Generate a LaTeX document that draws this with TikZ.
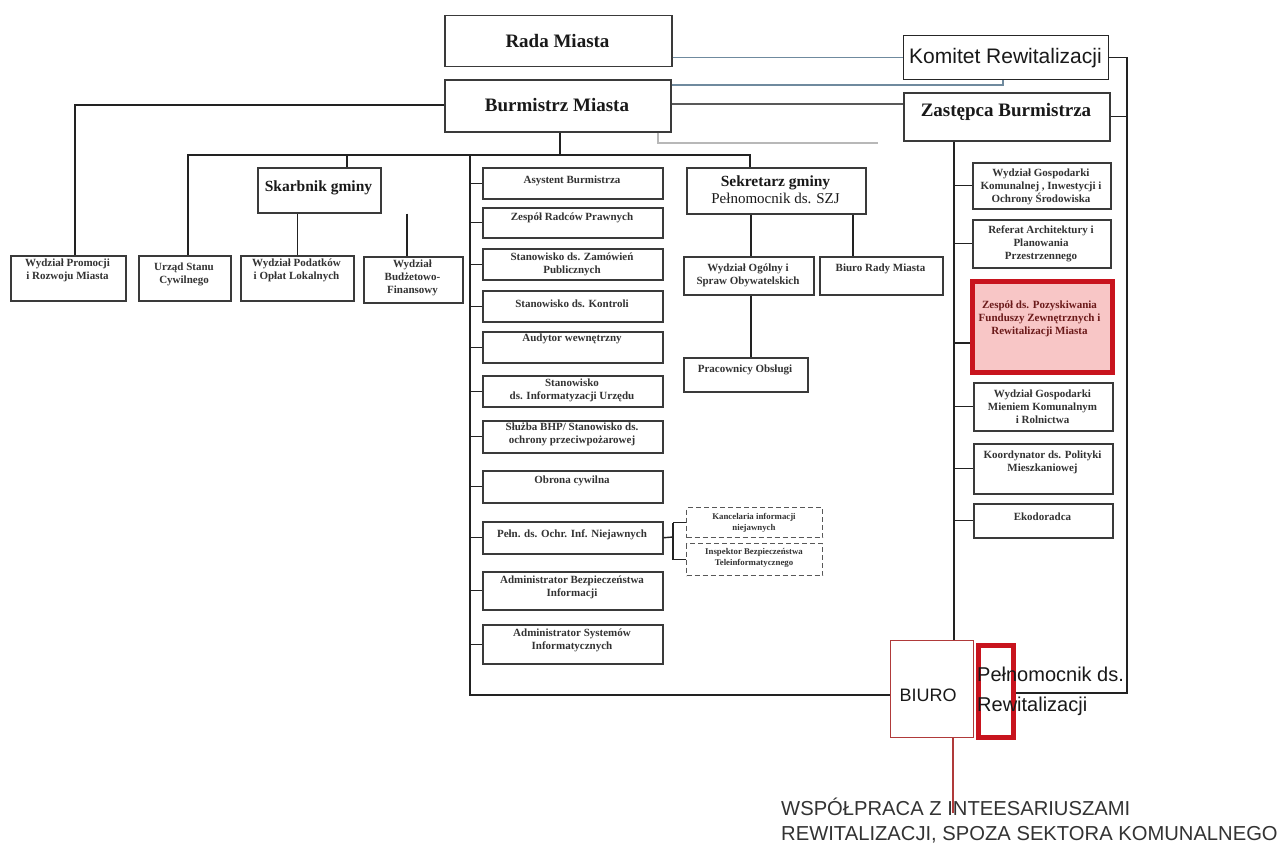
\documentclass[tikz,border=0pt]{standalone}
\usepackage{fontspec}
\setmainfont{Liberation Serif}
\newfontfamily\arialf{Liberation Sans}
\definecolor{bd}{HTML}{3A3A3A}
\definecolor{redb}{HTML}{C8141E}
\definecolor{pinkf}{HTML}{F8C6C6}
\definecolor{ln}{HTML}{222222}
\definecolor{blu}{HTML}{6F8A9E}
\definecolor{lgr}{HTML}{B8B8B8}
\definecolor{biur}{HTML}{B03A3A}
\definecolor{redtxt}{HTML}{6B1A1A}
\newcommand\obx[9]{%
  \node[#2, anchor=north west, minimum width={#6pt-#4pt}, minimum height={#7pt-#5pt}, inner sep=0pt] (#1) at (#4,#5) {};
  \node[#3] (#1-t) at ({(#4+#6)/2},#8) {#9};
}
\begin{document}
\begin{tikzpicture}[x=1pt,y=-1pt,
  box/.style={draw=bd, line width=1.5pt, fill=white},
  kbox/.style={draw=black!85, line width=1.3pt, fill=white},
  dbox/.style={draw=bd!85, line width=1.3pt, dash pattern=on 5pt off 3pt, fill=white},
  redbox/.style={draw=redb, line width=5pt, fill=pinkf},
  biurobox/.style={draw=biur, line width=0.9pt, fill=white},
  pelbox/.style={draw=redb, line width=5pt},
  con/.style={draw=ln, line width=1.4pt},
  bcon/.style={draw=blu, line width=1.1pt},
  lcon/.style={draw=lgr, line width=1.1pt},
  rcon/.style={draw=biur, line width=1.2pt},
  base/.style={align=center, inner sep=0pt},
  bigt/.style={base, font=\fontsize{19}{22}\selectfont\bfseries, text=black!90},
  midt/.style={base, font=\fontsize{15.5}{17}\selectfont\bfseries, text=black!90},
  sekt/.style={base, font=\fontsize{15}{17}\selectfont, text=black!90},
  smt/.style={base, font=\fontsize{11}{13}\selectfont\bfseries, text=black!80},
  tnt/.style={base, font=\fontsize{8.8}{11.5}\selectfont\bfseries, text=black!80},
  redt/.style={base, font=\fontsize{11}{13}\selectfont\bfseries, text=redtxt},
  sanst/.style={base, font=\arialf\fontsize{21}{24}\selectfont, text=black!90}
]
\fill[white] (0,0) rectangle (1279,843);
\useasboundingbox (0,0) rectangle (1279,843);

% junction coordinates
\coordinate (j1) at (75,105);
\coordinate (hb) at (560,155);
\coordinate (busL) at (188,155);
\coordinate (busR) at (750,155);
\coordinate (sk) at (347,155);
\coordinate (sp) at (470,155);
\coordinate (spb) at (470,695);
\coordinate (sx1) at (751,0);
\coordinate (sx2) at (853,0);
\coordinate (wbx) at (407,0);
\coordinate (dj) at (673,537);
\coordinate (k85) at (1003,85);
\coordinate (z104) at (0,104);
\coordinate (lg1) at (658,143);
\coordinate (lg2) at (878,143);
\coordinate (rr) at (1127,0);
\coordinate (zs) at (954,0);
\coordinate (zt3) at (954,343);
\coordinate (pr) at (0,693);
\coordinate (bl) at (953,813);

% boxes
\obx{rada}{box}{bigt}{444}{15}{671}{66}{41}{Rada Miasta}
\obx{burm}{box}{bigt}{444}{79}{670}{131}{105}{Burmistrz Miasta}
\obx{komitet}{kbox}{sanst}{903}{35}{1108}{79}{58}{Komitet Rewitalizacji}
\obx{zast}{box}{bigt}{903}{92}{1109}{140}{112}{Zastępca Burmistrza}
\obx{skarb}{box}{midt}{257}{167}{380}{212}{188}{Skarbnik gminy}
\obx{wpro}{box}{smt}{10}{255}{125}{300}{270}{Wydział Promocji\\i Rozwoju Miasta}
\obx{usc}{box}{smt}{138}{255}{230}{300}{274}{Urząd Stanu\\Cywilnego}
\obx{wpod}{box}{smt}{240}{255}{353}{300}{270}{Wydział Podatków\\i Opłat Lokalnych}
\obx{wbud}{box}{smt}{363}{256}{462}{302}{278}{Wydział\\Budżetowo-\\Finansowy}
\obx{sekr}{box}{sekt}{686}{167}{865}{213}{190}{{\fontsize{15.5}{17}\selectfont\bfseries Sekretarz gminy}\\Pełnomocnik ds. SZJ}
\obx{wog}{box}{smt}{683}{256}{813}{294}{275}{Wydział Ogólny i\\Spraw Obywatelskich}
\obx{brm}{box}{smt}{819}{256}{942}{294}{269}{Biuro Rady Miasta}
\obx{pob}{box}{smt}{683}{357}{807}{391}{370}{Pracownicy Obsługi}

\obx{asyst}{box}{smt}{482}{167}{662}{198}{181}{Asystent Burmistrza}
\obx{zrp}{box}{smt}{482}{207}{662}{237}{218}{Zespół Radców Prawnych}
\obx{szam}{box}{smt}{482}{248}{662}{279}{264}{Stanowisko ds. Zamówień\\Publicznych}
\obx{skon}{box}{smt}{482}{290}{662}{321}{304}{Stanowisko ds. Kontroli}
\obx{aud}{box}{smt}{482}{331}{662}{362}{339}{Audytor wewnętrzny}
\obx{sinf}{box}{smt}{482}{375}{662}{406}{390}{Stanowisko\\ds. Informatyzacji Urzędu}
\obx{bhp}{box}{smt}{482}{420}{662}{452}{434}{Służba BHP/ Stanowisko ds.\\ochrony przeciwpożarowej}
\obx{obr}{box}{smt}{482}{470}{662}{502}{481}{Obrona cywilna}
\obx{pni}{box}{smt}{482}{521}{662}{553}{535}{Pełn. ds. Ochr. Inf. Niejawnych}
\obx{abi}{box}{smt}{482}{571}{662}{609}{587}{Administrator Bezpieczeństwa\\Informacji}
\obx{asi}{box}{smt}{482}{624}{662}{663}{640}{Administrator Systemów\\Informatycznych}

\obx{kanc}{dbox}{tnt}{686}{507}{822}{537}{523}{Kancelaria informacji\\niejawnych}
\obx{insp}{dbox}{tnt}{686}{543}{822}{575}{558}{Inspektor Bezpieczeństwa\\Teleinformatycznego}

\obx{wgk}{box}{smt}{972}{162}{1110}{208}{187}{Wydział Gospodarki\\Komunalnej , Inwestycji i\\Ochrony Środowiska}
\obx{refa}{box}{smt}{972}{219}{1110}{267}{244}{Referat Architektury i\\Planowania\\Przestrzennego}
\obx{zfz}{redbox}{redt}{969.5}{278.5}{1109.5}{369.5}{319}{Zespół ds. Pozyskiwania\\Funduszy Zewnętrznych i\\Rewitalizacji Miasta}
\obx{wgm}{box}{smt}{973}{382}{1112}{430}{407}{Wydział Gospodarki\\Mieniem Komunalnym\\i Rolnictwa}
\obx{koord}{box}{smt}{973}{443}{1112}{493}{462}{Koordynator ds. Polityki\\Mieszkaniowej}
\obx{eko}{box}{smt}{973}{503}{1112}{537}{517}{Ekodoradca}

\node[biurobox, anchor=north west, minimum width=83pt, minimum height=97pt, inner sep=0pt] (biuro) at (890,640) {};
\node[base, font=\arialf\fontsize{18}{20}\selectfont, text=black!90] (biuro-t) at (928,695) {BIURO};
\node[pelbox, anchor=north west, minimum width=35pt, minimum height=92pt, inner sep=0pt] (pelrew) at (975.5,642.5) {};

% connectors
\draw[con] (burm.west |- j1) -- (j1) -- (j1 |- wpro.north);
\draw[con] (hb |- burm.south) -- (hb);
\draw[con] (busL |- usc.north) -- (busL) -- (busR) -- (busR |- sekr.north);
\draw[con] (sk) -- (sk |- skarb.north);
\draw[con] (sp) -- (spb) -- (spb -| biuro.west);
\foreach \n in {asyst,zrp,szam,skon,aud,sinf,bhp,obr,pni,abi,asi}
  \draw[con] (\n.west -| sp) -- (\n.west);
\draw[con] (wpod.north) -- (wpod.north |- skarb.south);
\draw[con] (wbx |- skarb.south) -- (wbx |- wbud.north);
\draw[con] (sx1 |- sekr.south) -- (sx1 |- wog.north);
\draw[con] (sx1 |- wog.south) -- (sx1 |- pob.north);
\draw[con] (sx2 |- sekr.south) -- (sx2 |- brm.north);
\draw[con] (pni.east) -- (dj);
\draw[con] (dj |- kanc.west) -- (dj |- insp.west);
\draw[con] (dj |- kanc.west) -- (kanc.west);
\draw[con] (dj |- insp.west) -- (insp.west);

\draw[bcon] (rada.east |- komitet.west) -- (komitet.west);
\draw[bcon] (k85 -| burm.east) -- (k85) -- (k85 |- komitet.south);
\draw[con, draw=black!65] (z104 -| burm.east) -- (z104 -| zast.west);
\draw[lcon] (lg1 |- burm.south) -- (lg1) -- (lg2);

\draw[con] (komitet.east) -- (komitet.east -| rr) -- (rr |- pr) -- (pr -| pelrew.east);
\draw[con] (zast.east) -- (zast.east -| rr);
\draw[con] (zs |- zast.south) -- (zs |- biuro.north);
\foreach \n in {wgk,refa,wgm,koord,eko}
  \draw[con] (\n.west -| zs) -- (\n.west);
\draw[con] (zt3) -- (zt3 -| zfz.west);
\draw[rcon] (bl |- biuro.south) -- (bl);

\node[anchor=west, align=left, inner sep=0pt, font=\arialf\fontsize{20}{30}\selectfont, text=black!90] (pelrew-t) at (977,691) {Pełnomocnik ds.\\Rewitalizacji};
\node[anchor=west, align=left, inner sep=0pt, font=\arialf\fontsize{20.2}{25}\selectfont, text=black!80] (wsp) at (781,820.5) {WSPÓŁPRACA Z INTEESARIUSZAMI\\REWITALIZACJI, SPOZA SEKTORA KOMUNALNEGO};
\end{tikzpicture}
\end{document}
